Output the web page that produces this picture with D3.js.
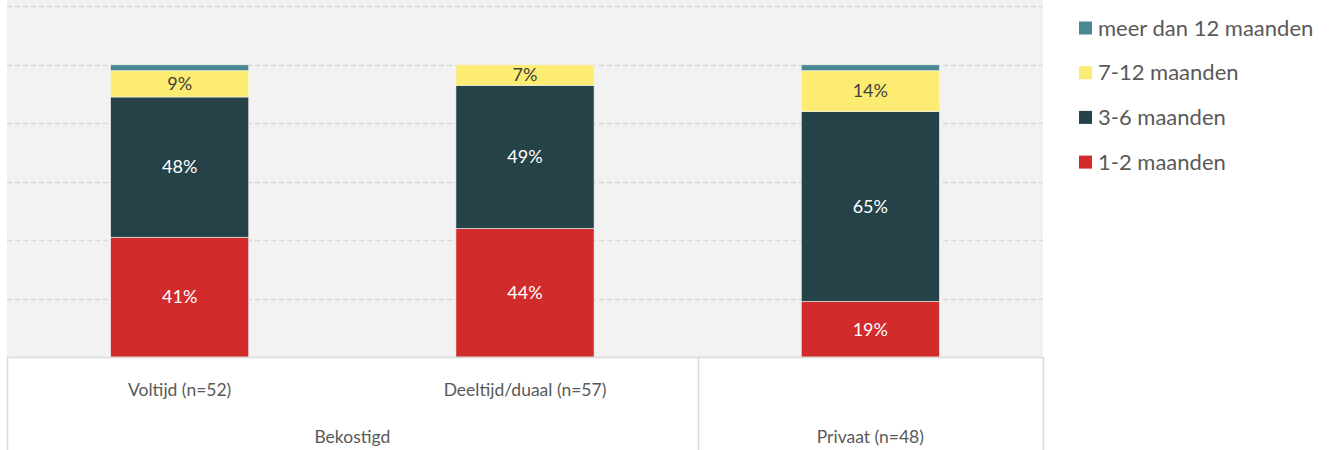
<!DOCTYPE html>
<html>
<head>
<meta charset="utf-8">
<script src="https://cdn.jsdelivr.net/npm/d3@7"></script>
<style>
  body { margin: 0; background: #fff; }
  svg text { font-family: Lato, "Open Sans", sans-serif; }
</style>
</head>
<body>
<div id="chart"></div>
<script>
// Data
const categories = ['Voltijd (n=52)', 'Deeltijd/duaal (n=57)', 'Privaat (n=48)'];
const groups = [
  { name: 'Bekostigd', members: ['Voltijd (n=52)', 'Deeltijd/duaal (n=57)'] },
  { name: 'Privaat (n=48)', members: ['Privaat (n=48)'] }
];
const seriesNames = ['1-2 maanden', '3-6 maanden', '7-12 maanden', 'meer dan 12 maanden'];
const v12 = [41, 44, 19];
const v36 = [48, 49, 65];
const v712 = [9, 7, 14];
const v12plus = [2, 0, 2];
const yTicks = [0, 20, 40, 60, 80, 100, 120];

const colors = {
  '1-2 maanden': '#d22b2b',
  '3-6 maanden': '#264249',
  '7-12 maanden': '#fdec72',
  'meer dan 12 maanden': '#4a8791'
};
const labelColors = {
  '1-2 maanden': '#ffffff',
  '3-6 maanden': '#ffffff',
  '7-12 maanden': '#404040',
  'meer dan 12 maanden': 'none'
};

const width = 1330, height = 450;
const plot = { left: 7, right: 1043, top: 0, bottom: 357 };

const rows = categories.map((c, i) => ({
  cat: c,
  '1-2 maanden': v12[i],
  '3-6 maanden': v36[i],
  '7-12 maanden': v712[i],
  'meer dan 12 maanden': v12plus[i]
}));

const stack = d3.stack().keys(seriesNames);
const stacked = stack(rows);

const x = d3.scaleBand()
  .domain(categories)
  .range([plot.left, plot.right])
  .paddingInner(0.6)
  .paddingOuter(0.3);

const y = d3.scaleLinear()
  .domain([0, 122.2])
  .range([plot.bottom, plot.top]);

const svg = d3.select('#chart')
  .append('svg')
  .attr('width', width)
  .attr('height', height);

// Plot background
svg.append('rect')
  .attr('x', plot.left)
  .attr('y', plot.top)
  .attr('width', plot.right - plot.left)
  .attr('height', plot.bottom - plot.top)
  .attr('fill', '#f2f2f2');

// Gridlines
svg.append('g')
  .selectAll('line')
  .data(yTicks.filter(d => d > 0))
  .join('line')
  .attr('x1', plot.left)
  .attr('x2', plot.right)
  .attr('y1', d => Math.round(y(d)) + 0.5)
  .attr('y2', d => Math.round(y(d)) + 0.5)
  .attr('stroke', '#d9d9d9')
  .attr('stroke-width', 1.5)
  .attr('stroke-dasharray', '5,3');

// Bars
const layer = svg.append('g')
  .selectAll('g')
  .data(stacked)
  .join('g')
  .attr('fill', d => colors[d.key]);

layer.selectAll('rect')
  .data(d => d.map(p => ({ key: d.key, p })))
  .join('rect')
  .attr('x', d => x(d.p.data.cat))
  .attr('width', x.bandwidth())
  .attr('y', d => y(d.p[1]))
  .attr('height', d => y(d.p[0]) - y(d.p[1]))
  .attr('stroke', '#f2f2f2')
  .attr('stroke-width', 0.6);

// Data labels
layer.selectAll('text')
  .data(d => d.map(p => ({ key: d.key, p })).filter(d => labelColors[d.key] !== 'none' && d.p[1] - d.p[0] > 0))
  .join('text')
  .attr('x', d => x(d.p.data.cat) + x.bandwidth() / 2)
  .attr('y', d => (y(d.p[0]) + y(d.p[1])) / 2)
  .attr('dy', '0.35em')
  .attr('text-anchor', 'middle')
  .attr('font-size', 18)
  .attr('fill', d => labelColors[d.key])
  .text(d => (d.p[1] - d.p[0]) + '%');

// Category axis (two levels)
const axis = svg.append('g').attr('stroke', '#d9d9d9').attr('stroke-width', 1.5);
axis.append('line')
  .attr('x1', plot.left).attr('x2', plot.right)
  .attr('y1', plot.bottom + 0.5).attr('y2', plot.bottom + 0.5);

const step = (plot.right - plot.left) / categories.length;
const groupEdges = [plot.left];
let acc = plot.left;
groups.forEach(g => {
  acc += g.members.length * step;
  groupEdges.push(acc);
});
axis.selectAll('line.sep')
  .data(groupEdges)
  .join('line')
  .attr('class', 'sep')
  .attr('x1', d => Math.round(d) + 0.5)
  .attr('x2', d => Math.round(d) + 0.5)
  .attr('y1', plot.bottom)
  .attr('y2', height);

svg.append('g')
  .selectAll('text')
  .data(groups.filter(g => g.members.length > 1).flatMap(g => g.members))
  .join('text')
  .attr('x', d => x(d) + x.bandwidth() / 2)
  .attr('y', 390)
  .attr('dy', '0.35em')
  .attr('text-anchor', 'middle')
  .attr('font-size', 17.5)
  .attr('fill', '#595959')
  .text(d => d);

svg.append('g')
  .selectAll('text')
  .data(groups)
  .join('text')
  .attr('x', (d, i) => (groupEdges[i] + groupEdges[i + 1]) / 2)
  .attr('y', 437)
  .attr('dy', '0.35em')
  .attr('text-anchor', 'middle')
  .attr('font-size', 17.5)
  .attr('fill', '#595959')
  .text(d => d.name);

// Legend
const legendItems = seriesNames.slice().reverse();
const legend = svg.append('g')
  .selectAll('g')
  .data(legendItems)
  .join('g')
  .attr('transform', (d, i) => `translate(1079, ${28 + i * 44.7})`);

legend.append('rect')
  .attr('x', 0)
  .attr('y', -6.5)
  .attr('width', 13)
  .attr('height', 13)
  .attr('fill', d => colors[d]);

legend.append('text')
  .attr('x', 19)
  .attr('y', 0)
  .attr('dy', '0.35em')
  .attr('font-size', 22)
  .attr('fill', '#595959')
  .text(d => d);
</script>
</body>
</html>
